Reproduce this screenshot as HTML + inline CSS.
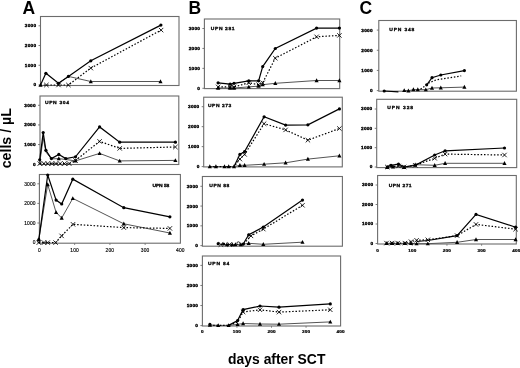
<!DOCTYPE html>
<html><head><meta charset="utf-8"><style>
html,body{margin:0;padding:0;background:#fff;}
body{width:520px;height:368px;overflow:hidden;}
svg{display:block;filter:grayscale(1);}
text{font-family:"Liberation Sans",sans-serif;font-weight:bold;fill:#000;}
.yl{font-size:4.7px;letter-spacing:0.25px;stroke:#000;stroke-width:0.35px;}
.yl2{font-size:4.9px;font-weight:normal;letter-spacing:0.15px;stroke:#000;stroke-width:0.15px;}
.xl2{font-size:4.9px;font-weight:normal;letter-spacing:0.15px;stroke:#000;stroke-width:0.15px;}
.xl{font-size:4.6px;letter-spacing:0.2px;stroke:#000;stroke-width:0.25px;}
.up{font-size:5px;stroke:#000;stroke-width:0.3px;}
.big{font-size:17.5px;}
.ax{font-size:14.2px;}
.ax2{font-size:14.4px;}
</style></head><body>
<svg width="520" height="368" viewBox="0 0 520 368">
<rect width="520" height="368" fill="#fff"/>
<rect x="40.5" y="16.5" width="138.5" height="69" fill="none" stroke="#6c6c6c" stroke-width="1.1"/>
<line x1="38.5" y1="85" x2="40.5" y2="85" stroke="#6c6c6c" stroke-width="0.9"/>
<text transform="translate(36.3,86.45) scale(1,0.9)" class="yl" text-anchor="end">0</text>
<line x1="38.5" y1="65.27" x2="40.5" y2="65.27" stroke="#6c6c6c" stroke-width="0.9"/>
<text transform="translate(36.3,66.72) scale(1,0.9)" class="yl" text-anchor="end">1000</text>
<line x1="38.5" y1="45.53" x2="40.5" y2="45.53" stroke="#6c6c6c" stroke-width="0.9"/>
<text transform="translate(36.3,46.98) scale(1,0.9)" class="yl" text-anchor="end">2000</text>
<line x1="38.5" y1="25.8" x2="40.5" y2="25.8" stroke="#6c6c6c" stroke-width="0.9"/>
<text transform="translate(36.3,27.25) scale(1,0.9)" class="yl" text-anchor="end">3000</text>
<rect x="40" y="96" width="138.8" height="68.5" fill="none" stroke="#6c6c6c" stroke-width="1.1"/>
<line x1="38" y1="164.2" x2="40" y2="164.2" stroke="#6c6c6c" stroke-width="0.9"/>
<text transform="translate(35.8,165.65) scale(1,0.9)" class="yl" text-anchor="end">0</text>
<line x1="38" y1="144.57" x2="40" y2="144.57" stroke="#6c6c6c" stroke-width="0.9"/>
<text transform="translate(35.8,146.02) scale(1,0.9)" class="yl" text-anchor="end">1000</text>
<line x1="38" y1="124.93" x2="40" y2="124.93" stroke="#6c6c6c" stroke-width="0.9"/>
<text transform="translate(35.8,126.38) scale(1,0.9)" class="yl" text-anchor="end">2000</text>
<line x1="38" y1="105.3" x2="40" y2="105.3" stroke="#6c6c6c" stroke-width="0.9"/>
<text transform="translate(35.8,106.75) scale(1,0.9)" class="yl" text-anchor="end">3000</text>
<text transform="translate(44.9,103.7) scale(1,0.85)" class="up" letter-spacing="0.65">UPN 304</text>
<rect x="39.4" y="174.5" width="141" height="68.7" fill="none" stroke="#6c6c6c" stroke-width="1.1"/>
<line x1="37.4" y1="242.6" x2="39.4" y2="242.6" stroke="#6c6c6c" stroke-width="0.9"/>
<text transform="translate(35.7,244.35) scale(1,1.0)" class="yl2" text-anchor="end">0</text>
<line x1="37.4" y1="223" x2="39.4" y2="223" stroke="#6c6c6c" stroke-width="0.9"/>
<text transform="translate(35.7,224.75) scale(1,1.0)" class="yl2" text-anchor="end">1000</text>
<line x1="37.4" y1="203.4" x2="39.4" y2="203.4" stroke="#6c6c6c" stroke-width="0.9"/>
<text transform="translate(35.7,205.15) scale(1,1.0)" class="yl2" text-anchor="end">2000</text>
<line x1="37.4" y1="183.8" x2="39.4" y2="183.8" stroke="#6c6c6c" stroke-width="0.9"/>
<text transform="translate(35.7,185.55) scale(1,1.0)" class="yl2" text-anchor="end">3000</text>
<line x1="74.65" y1="243.2" x2="74.65" y2="245" stroke="#6c6c6c" stroke-width="0.8"/>
<line x1="109.9" y1="243.2" x2="109.9" y2="245" stroke="#6c6c6c" stroke-width="0.8"/>
<line x1="145.15" y1="243.2" x2="145.15" y2="245" stroke="#6c6c6c" stroke-width="0.8"/>
<text transform="translate(39.4,251.7) scale(1,1.0)" class="xl2" text-anchor="middle">0</text>
<text transform="translate(74.65,251.7) scale(1,1.0)" class="xl2" text-anchor="middle">100</text>
<text transform="translate(109.9,251.7) scale(1,1.0)" class="xl2" text-anchor="middle">200</text>
<text transform="translate(145.15,251.7) scale(1,1.0)" class="xl2" text-anchor="middle">300</text>
<text transform="translate(180.4,251.7) scale(1,1.0)" class="xl2" text-anchor="middle">400</text>
<text transform="translate(152.4,187.3) scale(1,0.85)" class="up" letter-spacing="-0.1">UPN 58</text>
<rect x="204.4" y="19" width="135.3" height="69.6" fill="none" stroke="#6c6c6c" stroke-width="1.1"/>
<line x1="202.4" y1="88.3" x2="204.4" y2="88.3" stroke="#6c6c6c" stroke-width="0.9"/>
<text transform="translate(200.2,89.75) scale(1,0.9)" class="yl" text-anchor="end">0</text>
<line x1="202.4" y1="68.37" x2="204.4" y2="68.37" stroke="#6c6c6c" stroke-width="0.9"/>
<text transform="translate(200.2,69.82) scale(1,0.9)" class="yl" text-anchor="end">1000</text>
<line x1="202.4" y1="48.43" x2="204.4" y2="48.43" stroke="#6c6c6c" stroke-width="0.9"/>
<text transform="translate(200.2,49.88) scale(1,0.9)" class="yl" text-anchor="end">2000</text>
<line x1="202.4" y1="28.5" x2="204.4" y2="28.5" stroke="#6c6c6c" stroke-width="0.9"/>
<text transform="translate(200.2,29.95) scale(1,0.9)" class="yl" text-anchor="end">3000</text>
<text transform="translate(210.8,30.4) scale(1,0.85)" class="up" letter-spacing="0.6">UPN 281</text>
<rect x="203.7" y="97.2" width="138.6" height="69.7" fill="none" stroke="#6c6c6c" stroke-width="1.1"/>
<line x1="201.7" y1="166.6" x2="203.7" y2="166.6" stroke="#6c6c6c" stroke-width="0.9"/>
<text transform="translate(199.5,168.05) scale(1,0.9)" class="yl" text-anchor="end">0</text>
<line x1="201.7" y1="146.63" x2="203.7" y2="146.63" stroke="#6c6c6c" stroke-width="0.9"/>
<text transform="translate(199.5,148.08) scale(1,0.9)" class="yl" text-anchor="end">1000</text>
<line x1="201.7" y1="126.67" x2="203.7" y2="126.67" stroke="#6c6c6c" stroke-width="0.9"/>
<text transform="translate(199.5,128.12) scale(1,0.9)" class="yl" text-anchor="end">2000</text>
<line x1="201.7" y1="106.7" x2="203.7" y2="106.7" stroke="#6c6c6c" stroke-width="0.9"/>
<text transform="translate(199.5,108.15) scale(1,0.9)" class="yl" text-anchor="end">3000</text>
<text transform="translate(208,106.8) scale(1,0.85)" class="up" letter-spacing="0.5">UPN 273</text>
<rect x="202.4" y="176.5" width="140" height="69.7" fill="none" stroke="#6c6c6c" stroke-width="1.1"/>
<line x1="200.4" y1="245.6" x2="202.4" y2="245.6" stroke="#6c6c6c" stroke-width="0.9"/>
<text transform="translate(198.2,247.05) scale(1,0.9)" class="yl" text-anchor="end">0</text>
<line x1="200.4" y1="225.83" x2="202.4" y2="225.83" stroke="#6c6c6c" stroke-width="0.9"/>
<text transform="translate(198.2,227.28) scale(1,0.9)" class="yl" text-anchor="end">1000</text>
<line x1="200.4" y1="206.07" x2="202.4" y2="206.07" stroke="#6c6c6c" stroke-width="0.9"/>
<text transform="translate(198.2,207.52) scale(1,0.9)" class="yl" text-anchor="end">2000</text>
<line x1="200.4" y1="186.3" x2="202.4" y2="186.3" stroke="#6c6c6c" stroke-width="0.9"/>
<text transform="translate(198.2,187.75) scale(1,0.9)" class="yl" text-anchor="end">3000</text>
<text transform="translate(209.3,186.5) scale(1,0.85)" class="up" letter-spacing="0.5">UPN 88</text>
<rect x="202.4" y="256" width="138.2" height="70" fill="none" stroke="#6c6c6c" stroke-width="1.1"/>
<line x1="200.4" y1="325.6" x2="202.4" y2="325.6" stroke="#6c6c6c" stroke-width="0.9"/>
<text transform="translate(198.2,327.05) scale(1,0.9)" class="yl" text-anchor="end">0</text>
<line x1="200.4" y1="305.53" x2="202.4" y2="305.53" stroke="#6c6c6c" stroke-width="0.9"/>
<text transform="translate(198.2,306.98) scale(1,0.9)" class="yl" text-anchor="end">1000</text>
<line x1="200.4" y1="285.47" x2="202.4" y2="285.47" stroke="#6c6c6c" stroke-width="0.9"/>
<text transform="translate(198.2,286.92) scale(1,0.9)" class="yl" text-anchor="end">2000</text>
<line x1="200.4" y1="265.4" x2="202.4" y2="265.4" stroke="#6c6c6c" stroke-width="0.9"/>
<text transform="translate(198.2,266.85) scale(1,0.9)" class="yl" text-anchor="end">3000</text>
<line x1="236.95" y1="326" x2="236.95" y2="327.8" stroke="#6c6c6c" stroke-width="0.8"/>
<line x1="271.5" y1="326" x2="271.5" y2="327.8" stroke="#6c6c6c" stroke-width="0.8"/>
<line x1="306.05" y1="326" x2="306.05" y2="327.8" stroke="#6c6c6c" stroke-width="0.8"/>
<text transform="translate(202.4,333) scale(1,0.8)" class="xl" text-anchor="middle">0</text>
<text transform="translate(236.95,333) scale(1,0.8)" class="xl" text-anchor="middle">100</text>
<text transform="translate(271.5,333) scale(1,0.8)" class="xl" text-anchor="middle">200</text>
<text transform="translate(306.05,333) scale(1,0.8)" class="xl" text-anchor="middle">300</text>
<text transform="translate(340.6,333) scale(1,0.8)" class="xl" text-anchor="middle">400</text>
<text transform="translate(208,264.6) scale(1,0.85)" class="up" letter-spacing="0.76">UPN 84</text>
<rect x="378.8" y="20.5" width="137.6" height="70.7" fill="none" stroke="#6c6c6c" stroke-width="1.1"/>
<line x1="376.8" y1="90.6" x2="378.8" y2="90.6" stroke="#6c6c6c" stroke-width="0.9"/>
<text transform="translate(372.8,92.05) scale(1,0.9)" class="yl" text-anchor="end">0</text>
<line x1="376.8" y1="70.43" x2="378.8" y2="70.43" stroke="#6c6c6c" stroke-width="0.9"/>
<text transform="translate(372.8,71.88) scale(1,0.9)" class="yl" text-anchor="end">1000</text>
<line x1="376.8" y1="50.27" x2="378.8" y2="50.27" stroke="#6c6c6c" stroke-width="0.9"/>
<text transform="translate(372.8,51.72) scale(1,0.9)" class="yl" text-anchor="end">2000</text>
<line x1="376.8" y1="30.1" x2="378.8" y2="30.1" stroke="#6c6c6c" stroke-width="0.9"/>
<text transform="translate(372.8,31.55) scale(1,0.9)" class="yl" text-anchor="end">3000</text>
<text transform="translate(389.3,30.7) scale(1,0.85)" class="up" letter-spacing="0.8">UPN 348</text>
<rect x="376.7" y="99.3" width="140" height="68.3" fill="none" stroke="#6c6c6c" stroke-width="1.1"/>
<line x1="374.7" y1="167" x2="376.7" y2="167" stroke="#6c6c6c" stroke-width="0.9"/>
<text transform="translate(372.5,168.45) scale(1,0.9)" class="yl" text-anchor="end">0</text>
<line x1="374.7" y1="147.67" x2="376.7" y2="147.67" stroke="#6c6c6c" stroke-width="0.9"/>
<text transform="translate(372.5,149.12) scale(1,0.9)" class="yl" text-anchor="end">1000</text>
<line x1="374.7" y1="128.33" x2="376.7" y2="128.33" stroke="#6c6c6c" stroke-width="0.9"/>
<text transform="translate(372.5,129.78) scale(1,0.9)" class="yl" text-anchor="end">2000</text>
<line x1="374.7" y1="109" x2="376.7" y2="109" stroke="#6c6c6c" stroke-width="0.9"/>
<text transform="translate(372.5,110.45) scale(1,0.9)" class="yl" text-anchor="end">3000</text>
<text transform="translate(387.2,109.4) scale(1,0.85)" class="up" letter-spacing="0.95">UPN 328</text>
<rect x="377.6" y="175.5" width="138.7" height="68.5" fill="none" stroke="#6c6c6c" stroke-width="1.1"/>
<line x1="375.6" y1="243.5" x2="377.6" y2="243.5" stroke="#6c6c6c" stroke-width="0.9"/>
<text transform="translate(373.4,244.95) scale(1,0.9)" class="yl" text-anchor="end">0</text>
<line x1="375.6" y1="224" x2="377.6" y2="224" stroke="#6c6c6c" stroke-width="0.9"/>
<text transform="translate(373.4,225.45) scale(1,0.9)" class="yl" text-anchor="end">1000</text>
<line x1="375.6" y1="204.5" x2="377.6" y2="204.5" stroke="#6c6c6c" stroke-width="0.9"/>
<text transform="translate(373.4,205.95) scale(1,0.9)" class="yl" text-anchor="end">2000</text>
<line x1="375.6" y1="185" x2="377.6" y2="185" stroke="#6c6c6c" stroke-width="0.9"/>
<text transform="translate(373.4,186.45) scale(1,0.9)" class="yl" text-anchor="end">3000</text>
<line x1="412.27" y1="244" x2="412.27" y2="245.8" stroke="#6c6c6c" stroke-width="0.8"/>
<line x1="446.95" y1="244" x2="446.95" y2="245.8" stroke="#6c6c6c" stroke-width="0.8"/>
<line x1="481.62" y1="244" x2="481.62" y2="245.8" stroke="#6c6c6c" stroke-width="0.8"/>
<text transform="translate(377.6,251.5) scale(1,0.8)" class="xl" text-anchor="middle">0</text>
<text transform="translate(412.27,251.5) scale(1,0.8)" class="xl" text-anchor="middle">100</text>
<text transform="translate(446.95,251.5) scale(1,0.8)" class="xl" text-anchor="middle">200</text>
<text transform="translate(481.62,251.5) scale(1,0.8)" class="xl" text-anchor="middle">300</text>
<text transform="translate(516.3,251.5) scale(1,0.8)" class="xl" text-anchor="middle">400</text>
<text transform="translate(388.7,186.7) scale(1,0.85)" class="up" letter-spacing="0.45">UPN 271</text>
<polyline points="58.5,83.3 68.4,76.4 90.8,81.5 160.5,81.5" fill="none" stroke="#555" stroke-width="1"/>
<polyline points="40.5,85 46.4,85 58.5,85 68.4,85 90.8,68.1 161.1,30.1" fill="none" stroke="#000" stroke-width="1.2" stroke-dasharray="1.5,1.8"/>
<polyline points="40.5,85 45.9,73.3 58.5,83.3 68.4,76.4 90.8,60.8 160.9,25.1" fill="none" stroke="#000" stroke-width="1.2"/>
<path d="M90.8,79.25L92.85,83.14L88.75,83.14Z" fill="#000"/>
<path d="M160.5,79.25L162.55,83.14L158.45,83.14Z" fill="#000"/>
<path d="M44.2,82.8L48.6,87.2M44.2,87.2L48.6,82.8" stroke="#000" stroke-width="0.85" fill="none"/>
<path d="M56.3,82.8L60.7,87.2M56.3,87.2L60.7,82.8" stroke="#000" stroke-width="0.85" fill="none"/>
<path d="M66.2,82.8L70.6,87.2M66.2,87.2L70.6,82.8" stroke="#000" stroke-width="0.85" fill="none"/>
<path d="M88.6,65.9L93,70.3M88.6,70.3L93,65.9" stroke="#000" stroke-width="0.85" fill="none"/>
<path d="M158.9,27.9L163.3,32.3M158.9,32.3L163.3,27.9" stroke="#000" stroke-width="0.85" fill="none"/>
<circle cx="45.9" cy="73.3" r="1.6" fill="#000"/>
<circle cx="58.5" cy="83.3" r="1.6" fill="#000"/>
<circle cx="68.4" cy="76.4" r="1.6" fill="#000"/>
<circle cx="90.8" cy="60.8" r="1.6" fill="#000"/>
<circle cx="160.9" cy="25.1" r="1.6" fill="#000"/>
<path d="M40.5,82.75L42.55,86.64L38.45,86.64Z" fill="#000"/>
<polyline points="39.7,163.3 43.2,137.9 45.9,152 51.4,158.9 58.8,158.6 65.8,159.5 75.5,160.9 99.6,153.4 119.7,160.9 175.4,160.4" fill="none" stroke="#555" stroke-width="1"/>
<polyline points="39.8,163.6 43.9,163.6 47.8,163.6 51.9,163.6 55.9,163.6 60.1,163.6 64.6,163.6 69.2,163.6 75.5,160.5 99.6,141.4 119.7,148.4 175.4,147" fill="none" stroke="#000" stroke-width="1.2" stroke-dasharray="1.5,1.8"/>
<polyline points="39.7,159.8 43.2,132.6 45.9,150.3 51.4,158.6 58.8,154.4 65.8,158.6 75.5,156.8 99.6,126.9 119.7,142.2 175.4,142.2" fill="none" stroke="#000" stroke-width="1.2"/>
<path d="M58.8,156.34L60.85,160.24L56.75,160.24Z" fill="#000"/>
<path d="M75.5,158.65L77.55,162.54L73.45,162.54Z" fill="#000"/>
<path d="M99.6,151.15L101.65,155.04L97.55,155.04Z" fill="#000"/>
<path d="M119.7,158.65L121.75,162.54L117.65,162.54Z" fill="#000"/>
<path d="M175.4,158.15L177.45,162.04L173.35,162.04Z" fill="#000"/>
<path d="M37.6,161.4L42,165.8M37.6,165.8L42,161.4" stroke="#000" stroke-width="0.85" fill="none"/>
<path d="M41.7,161.4L46.1,165.8M41.7,165.8L46.1,161.4" stroke="#000" stroke-width="0.85" fill="none"/>
<path d="M45.6,161.4L50,165.8M45.6,165.8L50,161.4" stroke="#000" stroke-width="0.85" fill="none"/>
<path d="M49.7,161.4L54.1,165.8M49.7,165.8L54.1,161.4" stroke="#000" stroke-width="0.85" fill="none"/>
<path d="M53.7,161.4L58.1,165.8M53.7,165.8L58.1,161.4" stroke="#000" stroke-width="0.85" fill="none"/>
<path d="M57.9,161.4L62.3,165.8M57.9,165.8L62.3,161.4" stroke="#000" stroke-width="0.85" fill="none"/>
<path d="M62.4,161.4L66.8,165.8M62.4,165.8L66.8,161.4" stroke="#000" stroke-width="0.85" fill="none"/>
<path d="M67,161.4L71.4,165.8M67,165.8L71.4,161.4" stroke="#000" stroke-width="0.85" fill="none"/>
<path d="M73.3,158.3L77.7,162.7M73.3,162.7L77.7,158.3" stroke="#000" stroke-width="0.85" fill="none"/>
<path d="M97.4,139.2L101.8,143.6M97.4,143.6L101.8,139.2" stroke="#000" stroke-width="0.85" fill="none"/>
<path d="M117.5,146.2L121.9,150.6M117.5,150.6L121.9,146.2" stroke="#000" stroke-width="0.85" fill="none"/>
<path d="M173.2,144.8L177.6,149.2M173.2,149.2L177.6,144.8" stroke="#000" stroke-width="0.85" fill="none"/>
<circle cx="39.7" cy="159.8" r="1.6" fill="#000"/>
<circle cx="43.2" cy="132.6" r="1.6" fill="#000"/>
<circle cx="45.9" cy="150.3" r="1.6" fill="#000"/>
<circle cx="51.4" cy="158.6" r="1.6" fill="#000"/>
<circle cx="58.8" cy="154.4" r="1.6" fill="#000"/>
<circle cx="65.8" cy="158.6" r="1.6" fill="#000"/>
<circle cx="75.5" cy="156.8" r="1.6" fill="#000"/>
<circle cx="99.6" cy="126.9" r="1.6" fill="#000"/>
<circle cx="119.7" cy="142.2" r="1.6" fill="#000"/>
<circle cx="175.4" cy="142.2" r="1.6" fill="#000"/>
<polyline points="38.8,239.7 47.7,184.5 56.1,212.4 61.7,218 72.8,198.4 123.8,223.8 169.9,233" fill="none" stroke="#555" stroke-width="1"/>
<polyline points="38.8,242.6 44,242.6 47.7,242.6 55.6,242.6 61.6,235.9 73,224.3 123.8,227.6 169.9,228.4" fill="none" stroke="#000" stroke-width="1.2" stroke-dasharray="1.5,1.8"/>
<polyline points="38.8,239.7 47.7,175 56.1,200.1 61.7,204 72.8,179.2 123.8,207.7 169.9,216.8" fill="none" stroke="#000" stroke-width="1.2"/>
<path d="M38.8,237.44L40.85,241.34L36.75,241.34Z" fill="#000"/>
<path d="M47.7,182.25L49.75,186.14L45.65,186.14Z" fill="#000"/>
<path d="M56.1,210.15L58.15,214.04L54.05,214.04Z" fill="#000"/>
<path d="M61.7,215.75L63.75,219.64L59.65,219.64Z" fill="#000"/>
<path d="M72.8,196.15L74.85,200.04L70.75,200.04Z" fill="#000"/>
<path d="M123.8,221.55L125.85,225.44L121.75,225.44Z" fill="#000"/>
<path d="M169.9,230.75L171.95,234.64L167.85,234.64Z" fill="#000"/>
<path d="M36.6,240.4L41,244.8M36.6,244.8L41,240.4" stroke="#000" stroke-width="0.85" fill="none"/>
<path d="M41.8,240.4L46.2,244.8M41.8,244.8L46.2,240.4" stroke="#000" stroke-width="0.85" fill="none"/>
<path d="M45.5,240.4L49.9,244.8M45.5,244.8L49.9,240.4" stroke="#000" stroke-width="0.85" fill="none"/>
<path d="M53.4,240.4L57.8,244.8M53.4,244.8L57.8,240.4" stroke="#000" stroke-width="0.85" fill="none"/>
<path d="M59.4,233.7L63.8,238.1M59.4,238.1L63.8,233.7" stroke="#000" stroke-width="0.85" fill="none"/>
<path d="M70.8,222.1L75.2,226.5M70.8,226.5L75.2,222.1" stroke="#000" stroke-width="0.85" fill="none"/>
<path d="M121.6,225.4L126,229.8M121.6,229.8L126,225.4" stroke="#000" stroke-width="0.85" fill="none"/>
<path d="M167.7,226.2L172.1,230.6M167.7,230.6L172.1,226.2" stroke="#000" stroke-width="0.85" fill="none"/>
<circle cx="38.8" cy="239.7" r="1.6" fill="#000"/>
<circle cx="47.7" cy="175" r="1.6" fill="#000"/>
<circle cx="56.1" cy="200.1" r="1.6" fill="#000"/>
<circle cx="61.7" cy="204" r="1.6" fill="#000"/>
<circle cx="72.8" cy="179.2" r="1.6" fill="#000"/>
<circle cx="123.8" cy="207.7" r="1.6" fill="#000"/>
<circle cx="169.9" cy="216.8" r="1.6" fill="#000"/>
<polyline points="218.1,88 230.1,88 234,88 248.8,86.9 258.6,86.1 262.7,84.7 275.3,83.3 316.6,80.5 339.4,80.5" fill="none" stroke="#555" stroke-width="1"/>
<polyline points="218.1,86.9 230.1,86.9 234,86.9 248.8,82.8 258.6,84.7 262.7,82.8 275.3,58.2 316.6,36.8 339.4,35.4" fill="none" stroke="#000" stroke-width="1.2" stroke-dasharray="1.5,1.8"/>
<polyline points="218.1,82.8 230.1,84.2 234,83.3 248.8,80.8 258.6,80.8 262.7,66.6 275.3,48.5 316.6,28.1 339.4,28.1" fill="none" stroke="#000" stroke-width="1.2"/>
<path d="M218.1,85.75L220.15,89.64L216.05,89.64Z" fill="#000"/>
<path d="M230.1,85.75L232.15,89.64L228.05,89.64Z" fill="#000"/>
<path d="M234,85.75L236.05,89.64L231.95,89.64Z" fill="#000"/>
<path d="M248.8,84.65L250.85,88.54L246.75,88.54Z" fill="#000"/>
<path d="M258.6,83.84L260.65,87.74L256.55,87.74Z" fill="#000"/>
<path d="M262.7,82.45L264.75,86.34L260.65,86.34Z" fill="#000"/>
<path d="M275.3,81.05L277.35,84.94L273.25,84.94Z" fill="#000"/>
<path d="M316.6,78.25L318.65,82.14L314.55,82.14Z" fill="#000"/>
<path d="M339.4,78.25L341.45,82.14L337.35,82.14Z" fill="#000"/>
<path d="M215.9,84.7L220.3,89.1M215.9,89.1L220.3,84.7" stroke="#000" stroke-width="0.85" fill="none"/>
<path d="M227.9,84.7L232.3,89.1M227.9,89.1L232.3,84.7" stroke="#000" stroke-width="0.85" fill="none"/>
<path d="M231.8,84.7L236.2,89.1M231.8,89.1L236.2,84.7" stroke="#000" stroke-width="0.85" fill="none"/>
<path d="M246.6,80.6L251,85M246.6,85L251,80.6" stroke="#000" stroke-width="0.85" fill="none"/>
<path d="M256.4,82.5L260.8,86.9M256.4,86.9L260.8,82.5" stroke="#000" stroke-width="0.85" fill="none"/>
<path d="M260.5,80.6L264.9,85M260.5,85L264.9,80.6" stroke="#000" stroke-width="0.85" fill="none"/>
<path d="M273.1,56L277.5,60.4M273.1,60.4L277.5,56" stroke="#000" stroke-width="0.85" fill="none"/>
<path d="M314.4,34.6L318.8,39M314.4,39L318.8,34.6" stroke="#000" stroke-width="0.85" fill="none"/>
<path d="M337.2,33.2L341.6,37.6M337.2,37.6L341.6,33.2" stroke="#000" stroke-width="0.85" fill="none"/>
<circle cx="218.1" cy="82.8" r="1.6" fill="#000"/>
<circle cx="230.1" cy="84.2" r="1.6" fill="#000"/>
<circle cx="234" cy="83.3" r="1.6" fill="#000"/>
<circle cx="248.8" cy="80.8" r="1.6" fill="#000"/>
<circle cx="258.6" cy="80.8" r="1.6" fill="#000"/>
<circle cx="262.7" cy="66.6" r="1.6" fill="#000"/>
<circle cx="275.3" cy="48.5" r="1.6" fill="#000"/>
<circle cx="316.6" cy="28.1" r="1.6" fill="#000"/>
<circle cx="339.4" cy="28.1" r="1.6" fill="#000"/>
<polyline points="209.8,166.6 215.9,166.6 224.5,166.6 228.7,166.6 234,166.6 239.9,165.3 244.6,165.3 264.1,164.2 285.6,162.8 307.9,159.1 339.4,155.8" fill="none" stroke="#555" stroke-width="1"/>
<polyline points="209.8,166.6 215.9,166.6 224.5,166.6 228.7,166.6 234,166.6 239.9,159.1 244.6,154.4 264.1,123.7 285.6,129.9 307.9,140.2 339.4,128.5" fill="none" stroke="#000" stroke-width="1.2" stroke-dasharray="1.5,1.8"/>
<polyline points="234,166.5 239.9,154.4 244.6,151.6 264.1,116.8 285.6,125.1 307.9,124.8 339.4,108.9" fill="none" stroke="#000" stroke-width="1.2"/>
<path d="M209.8,164.34L211.85,168.24L207.75,168.24Z" fill="#000"/>
<path d="M215.9,164.34L217.95,168.24L213.85,168.24Z" fill="#000"/>
<path d="M224.5,164.34L226.55,168.24L222.45,168.24Z" fill="#000"/>
<path d="M228.7,164.34L230.75,168.24L226.65,168.24Z" fill="#000"/>
<path d="M234,164.34L236.05,168.24L231.95,168.24Z" fill="#000"/>
<path d="M239.9,163.05L241.95,166.94L237.85,166.94Z" fill="#000"/>
<path d="M244.6,163.05L246.65,166.94L242.55,166.94Z" fill="#000"/>
<path d="M264.1,161.94L266.15,165.84L262.05,165.84Z" fill="#000"/>
<path d="M285.6,160.55L287.65,164.44L283.55,164.44Z" fill="#000"/>
<path d="M307.9,156.84L309.95,160.74L305.85,160.74Z" fill="#000"/>
<path d="M339.4,153.55L341.45,157.44L337.35,157.44Z" fill="#000"/>
<path d="M237.7,156.9L242.1,161.3M237.7,161.3L242.1,156.9" stroke="#000" stroke-width="0.85" fill="none"/>
<path d="M242.4,152.2L246.8,156.6M242.4,156.6L246.8,152.2" stroke="#000" stroke-width="0.85" fill="none"/>
<path d="M261.9,121.5L266.3,125.9M261.9,125.9L266.3,121.5" stroke="#000" stroke-width="0.85" fill="none"/>
<path d="M283.4,127.7L287.8,132.1M283.4,132.1L287.8,127.7" stroke="#000" stroke-width="0.85" fill="none"/>
<path d="M305.7,138L310.1,142.4M305.7,142.4L310.1,138" stroke="#000" stroke-width="0.85" fill="none"/>
<path d="M337.2,126.3L341.6,130.7M337.2,130.7L341.6,126.3" stroke="#000" stroke-width="0.85" fill="none"/>
<circle cx="239.9" cy="154.4" r="1.6" fill="#000"/>
<circle cx="244.6" cy="151.6" r="1.6" fill="#000"/>
<circle cx="264.1" cy="116.8" r="1.6" fill="#000"/>
<circle cx="285.6" cy="125.1" r="1.6" fill="#000"/>
<circle cx="307.9" cy="124.8" r="1.6" fill="#000"/>
<circle cx="339.4" cy="108.9" r="1.6" fill="#000"/>
<polyline points="226.9,244.6 232.3,244.6 235.4,244.6 240.8,244.6 248.7,243.3 263.3,244.3 302.5,242.2" fill="none" stroke="#555" stroke-width="1"/>
<polyline points="220.9,244.5 229.6,244.5 238.4,244.5 243.1,244.5 251,235.9 263.3,229.1 302.5,205.3" fill="none" stroke="#000" stroke-width="1.2" stroke-dasharray="1.5,1.8"/>
<polyline points="243.1,244.2 248.7,234.8 263.3,227.1 302.5,200.1" fill="none" stroke="#000" stroke-width="1.2"/>
<path d="M226.9,242.34L228.95,246.24L224.85,246.24Z" fill="#000"/>
<path d="M232.3,242.34L234.35,246.24L230.25,246.24Z" fill="#000"/>
<path d="M235.4,242.34L237.45,246.24L233.35,246.24Z" fill="#000"/>
<path d="M240.8,242.34L242.85,246.24L238.75,246.24Z" fill="#000"/>
<path d="M248.7,241.05L250.75,244.94L246.65,244.94Z" fill="#000"/>
<path d="M263.3,242.05L265.35,245.94L261.25,245.94Z" fill="#000"/>
<path d="M302.5,239.94L304.55,243.84L300.45,243.84Z" fill="#000"/>
<path d="M218.7,242.3L223.1,246.7M218.7,246.7L223.1,242.3" stroke="#000" stroke-width="0.85" fill="none"/>
<path d="M227.4,242.3L231.8,246.7M227.4,246.7L231.8,242.3" stroke="#000" stroke-width="0.85" fill="none"/>
<path d="M248.8,233.7L253.2,238.1M248.8,238.1L253.2,233.7" stroke="#000" stroke-width="0.85" fill="none"/>
<path d="M261.1,226.9L265.5,231.3M261.1,231.3L265.5,226.9" stroke="#000" stroke-width="0.85" fill="none"/>
<path d="M300.3,203.1L304.7,207.5M300.3,207.5L304.7,203.1" stroke="#000" stroke-width="0.85" fill="none"/>
<circle cx="243.1" cy="244.2" r="1.6" fill="#000"/>
<circle cx="248.7" cy="234.8" r="1.6" fill="#000"/>
<circle cx="263.3" cy="227.1" r="1.6" fill="#000"/>
<circle cx="302.5" cy="200.1" r="1.6" fill="#000"/>
<circle cx="218.2" cy="243.7" r="1.6" fill="#000"/>
<circle cx="223.6" cy="244" r="1.6" fill="#000"/>
<circle cx="238.4" cy="243.3" r="1.5" fill="#fff" stroke="#000" stroke-width="0.8"/>
<polyline points="209.9,325 218.2,325.4 228.6,325.4 237.6,324.4 243.1,323.5 260,324 279,324.2 330.3,321.9" fill="none" stroke="#555" stroke-width="1"/>
<polyline points="209.9,325.2 218.2,325.4 228.6,325.4 237.6,322 243.1,312 260,309.8 279,312.1 330.3,309.8" fill="none" stroke="#000" stroke-width="1.2" stroke-dasharray="1.5,1.8"/>
<polyline points="228.6,325.4 237.6,320.6 243.1,309.6 260,306 279,307.2 330.3,303.9" fill="none" stroke="#000" stroke-width="1.2"/>
<path d="M209.9,322.75L211.95,326.64L207.85,326.64Z" fill="#000"/>
<path d="M218.2,323.14L220.25,327.04L216.15,327.04Z" fill="#000"/>
<path d="M228.6,323.14L230.65,327.04L226.55,327.04Z" fill="#000"/>
<path d="M237.6,322.14L239.65,326.04L235.55,326.04Z" fill="#000"/>
<path d="M243.1,321.25L245.15,325.14L241.05,325.14Z" fill="#000"/>
<path d="M260,321.75L262.05,325.64L257.95,325.64Z" fill="#000"/>
<path d="M279,321.94L281.05,325.84L276.95,325.84Z" fill="#000"/>
<path d="M330.3,319.64L332.35,323.54L328.25,323.54Z" fill="#000"/>
<path d="M240.9,309.8L245.3,314.2M240.9,314.2L245.3,309.8" stroke="#000" stroke-width="0.85" fill="none"/>
<path d="M257.8,307.6L262.2,312M257.8,312L262.2,307.6" stroke="#000" stroke-width="0.85" fill="none"/>
<path d="M276.8,309.9L281.2,314.3M276.8,314.3L281.2,309.9" stroke="#000" stroke-width="0.85" fill="none"/>
<path d="M328.1,307.6L332.5,312M328.1,312L332.5,307.6" stroke="#000" stroke-width="0.85" fill="none"/>
<circle cx="237.6" cy="320.6" r="1.6" fill="#000"/>
<circle cx="243.1" cy="309.6" r="1.6" fill="#000"/>
<circle cx="260" cy="306" r="1.6" fill="#000"/>
<circle cx="279" cy="307.2" r="1.6" fill="#000"/>
<circle cx="330.3" cy="303.9" r="1.6" fill="#000"/>
<circle cx="209.9" cy="324.4" r="1.6" fill="#000"/>
<polyline points="404.2,90.4 408.4,90.8 413.4,89.6 417.8,89.6 425.8,89.7 432,88 440.8,87.8 464.4,87.1" fill="none" stroke="#555" stroke-width="1"/>
<polyline points="420.5,89.2 426.7,84.8 429.3,82.7 436.4,79.8 461.2,75.9" fill="none" stroke="#000" stroke-width="1.2" stroke-dasharray="1.5,1.8"/>
<polyline points="384.2,91 398.4,91.9" fill="none" stroke="#000" stroke-width="1.2"/>
<polyline points="426.7,84.8 432,77.7 440.8,75 464.4,70.6" fill="none" stroke="#000" stroke-width="1.2"/>
<path d="M404.2,88.15L406.25,92.04L402.15,92.04Z" fill="#000"/>
<path d="M408.4,88.55L410.45,92.44L406.35,92.44Z" fill="#000"/>
<path d="M413.4,87.34L415.45,91.24L411.35,91.24Z" fill="#000"/>
<path d="M417.8,87.34L419.85,91.24L415.75,91.24Z" fill="#000"/>
<path d="M425.8,87.45L427.85,91.34L423.75,91.34Z" fill="#000"/>
<path d="M432,85.75L434.05,89.64L429.95,89.64Z" fill="#000"/>
<path d="M440.8,85.55L442.85,89.44L438.75,89.44Z" fill="#000"/>
<path d="M464.4,84.84L466.45,88.74L462.35,88.74Z" fill="#000"/>
<circle cx="384.2" cy="91" r="1.6" fill="#000"/>
<circle cx="426.7" cy="84.8" r="1.6" fill="#000"/>
<circle cx="432" cy="77.7" r="1.6" fill="#000"/>
<circle cx="440.8" cy="75" r="1.6" fill="#000"/>
<circle cx="464.4" cy="70.6" r="1.6" fill="#000"/>
<polyline points="387.3,167.3 393,166.8 404.1,167.3 415.2,164.7 434.7,165.3 445.1,163.3 504.5,163.3" fill="none" stroke="#555" stroke-width="1"/>
<polyline points="387.3,167 398.5,166 404.1,167 415.2,165.3 434.7,158.3 445.1,154.1 504.5,155" fill="none" stroke="#000" stroke-width="1.2" stroke-dasharray="1.5,1.8"/>
<polyline points="387.3,167 391,165.3 398.5,164.2 404.1,167 415.2,165.3 434.7,155 445.1,150.8 504.5,148" fill="none" stroke="#000" stroke-width="1.2"/>
<path d="M387.3,165.05L389.35,168.94L385.25,168.94Z" fill="#000"/>
<path d="M393,164.55L395.05,168.44L390.95,168.44Z" fill="#000"/>
<path d="M404.1,165.05L406.15,168.94L402.05,168.94Z" fill="#000"/>
<path d="M415.2,162.44L417.25,166.34L413.15,166.34Z" fill="#000"/>
<path d="M434.7,163.05L436.75,166.94L432.65,166.94Z" fill="#000"/>
<path d="M445.1,161.05L447.15,164.94L443.05,164.94Z" fill="#000"/>
<path d="M504.5,161.05L506.55,164.94L502.45,164.94Z" fill="#000"/>
<path d="M385.1,164.8L389.5,169.2M385.1,169.2L389.5,164.8" stroke="#000" stroke-width="0.85" fill="none"/>
<path d="M396.3,163.8L400.7,168.2M396.3,168.2L400.7,163.8" stroke="#000" stroke-width="0.85" fill="none"/>
<path d="M401.9,164.8L406.3,169.2M401.9,169.2L406.3,164.8" stroke="#000" stroke-width="0.85" fill="none"/>
<path d="M413,163.1L417.4,167.5M413,167.5L417.4,163.1" stroke="#000" stroke-width="0.85" fill="none"/>
<path d="M432.5,156.1L436.9,160.5M432.5,160.5L436.9,156.1" stroke="#000" stroke-width="0.85" fill="none"/>
<path d="M442.9,151.9L447.3,156.3M442.9,156.3L447.3,151.9" stroke="#000" stroke-width="0.85" fill="none"/>
<path d="M502.3,152.8L506.7,157.2M502.3,157.2L506.7,152.8" stroke="#000" stroke-width="0.85" fill="none"/>
<circle cx="387.3" cy="167" r="1.6" fill="#000"/>
<circle cx="391" cy="165.3" r="1.6" fill="#000"/>
<circle cx="398.5" cy="164.2" r="1.6" fill="#000"/>
<circle cx="404.1" cy="167" r="1.6" fill="#000"/>
<circle cx="415.2" cy="165.3" r="1.6" fill="#000"/>
<circle cx="434.7" cy="155" r="1.6" fill="#000"/>
<circle cx="445.1" cy="150.8" r="1.6" fill="#000"/>
<circle cx="504.5" cy="148" r="1.6" fill="#000"/>
<polyline points="386.5,243.4 392.1,243.4 397.7,243.4 404.9,243.4 411,243.4 416.6,243.7 427.8,243.7 457.1,242.3 476,239.5 515.6,239.5" fill="none" stroke="#555" stroke-width="1"/>
<polyline points="386.5,243.1 392.1,243.1 397.7,243.1 404.9,243.1 411,241.7 416.6,240.3 427.8,239.8 457.1,235.6 476,224.4 515.6,229.2" fill="none" stroke="#000" stroke-width="1.2" stroke-dasharray="1.5,1.8"/>
<polyline points="416.6,241.5 427.8,240.5 457.1,235.6 476,214.4 515.6,227.2" fill="none" stroke="#000" stroke-width="1.2"/>
<path d="M386.5,241.15L388.55,245.04L384.45,245.04Z" fill="#000"/>
<path d="M392.1,241.15L394.15,245.04L390.05,245.04Z" fill="#000"/>
<path d="M397.7,241.15L399.75,245.04L395.65,245.04Z" fill="#000"/>
<path d="M404.9,241.15L406.95,245.04L402.85,245.04Z" fill="#000"/>
<path d="M411,241.15L413.05,245.04L408.95,245.04Z" fill="#000"/>
<path d="M416.6,241.44L418.65,245.34L414.55,245.34Z" fill="#000"/>
<path d="M427.8,241.44L429.85,245.34L425.75,245.34Z" fill="#000"/>
<path d="M457.1,240.05L459.15,243.94L455.05,243.94Z" fill="#000"/>
<path d="M476,237.25L478.05,241.14L473.95,241.14Z" fill="#000"/>
<path d="M515.6,237.25L517.65,241.14L513.55,241.14Z" fill="#000"/>
<path d="M384.3,240.9L388.7,245.3M384.3,245.3L388.7,240.9" stroke="#000" stroke-width="0.85" fill="none"/>
<path d="M389.9,240.9L394.3,245.3M389.9,245.3L394.3,240.9" stroke="#000" stroke-width="0.85" fill="none"/>
<path d="M395.5,240.9L399.9,245.3M395.5,245.3L399.9,240.9" stroke="#000" stroke-width="0.85" fill="none"/>
<path d="M402.7,240.9L407.1,245.3M402.7,245.3L407.1,240.9" stroke="#000" stroke-width="0.85" fill="none"/>
<path d="M408.8,239.5L413.2,243.9M408.8,243.9L413.2,239.5" stroke="#000" stroke-width="0.85" fill="none"/>
<path d="M414.4,238.1L418.8,242.5M414.4,242.5L418.8,238.1" stroke="#000" stroke-width="0.85" fill="none"/>
<path d="M425.6,237.6L430,242M425.6,242L430,237.6" stroke="#000" stroke-width="0.85" fill="none"/>
<path d="M454.9,233.4L459.3,237.8M454.9,237.8L459.3,233.4" stroke="#000" stroke-width="0.85" fill="none"/>
<path d="M473.8,222.2L478.2,226.6M473.8,226.6L478.2,222.2" stroke="#000" stroke-width="0.85" fill="none"/>
<path d="M513.4,227L517.8,231.4M513.4,231.4L517.8,227" stroke="#000" stroke-width="0.85" fill="none"/>
<circle cx="457.1" cy="235.6" r="1.6" fill="#000"/>
<circle cx="476" cy="214.4" r="1.6" fill="#000"/>
<circle cx="515.6" cy="227.2" r="1.6" fill="#000"/>
<text x="22.6" y="13.7" class="big">A</text>
<text x="188.6" y="13.8" class="big">B</text>
<text x="359.6" y="13.8" class="big">C</text>
<text transform="translate(10.9,168.3) rotate(-90)" class="ax">cells / µL</text>
<text transform="translate(228.1,364.3) scale(0.966,1)" class="ax2">days after SCT</text>
</svg>
</body></html>
